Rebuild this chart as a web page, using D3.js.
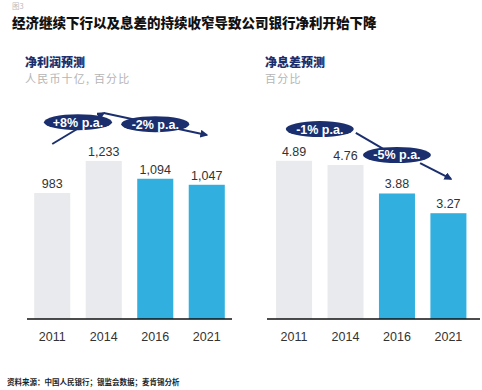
<!DOCTYPE html>
<html>
<head>
<meta charset="utf-8">
<title>公司银行净利</title>
<style>
    body { margin: 0; background: #fff; }
    svg { display: block; }
    .num { font-family: "Liberation Sans", Arial, sans-serif; fill: #333; }
    .cjk { font-family: "Noto Sans CJK SC", sans-serif; }
    .tag { font-family: "Liberation Sans", Arial, sans-serif; font-weight: bold; fill: #fff; font-size: 12.5px; }
</style>
</head>
<body>
<script src="https://d3js.org/d3.v7.min.js"></script>
<script>
// data
var years = ["2011", "2014", "2016", "2021"];
var profit = [983, 1233, 1094, 1047];
var profitLabels = ["983", "1,233", "1,094", "1,047"];
var margin = [4.89, 4.76, 3.88, 3.27];
var marginLabels = ["4.89", "4.76", "3.88", "3.27"];
var forecast = [false, false, true, true];

// growth annotations: [year index, value] points, label
var profitArrows = [
    {pts: [[0, 1365], [1, 1607]], label: "+8% p.a.", at: [0.5, 1535], head: true},
    {pts: [[1, 1607], [3, 1435]], label: "-2% p.a.", at: [2, 1520], head: true}
];
var marginArrows = [
    {pts: [[1.2, 5.75], [1.8, 5.2]], label: "-1% p.a.", at: [0.5, 5.87], head: false},
    {pts: [[2.45, 4.82], [3.05, 4.33]], label: "-5% p.a.", at: [2.0, 5.07], head: true}
];

var width = 482, height = 390;
var grey = "#e8eaed", blue = "#31b0e0", navy = "#1b2f6e";

var svg = d3.select("body").append("svg")
    .attr("width", width)
    .attr("height", height);

var defs = svg.append("defs");
defs.append("marker")
    .attr("id", "head")
    .attr("viewBox", "0 0 10 10")
    .attr("refX", 8).attr("refY", 5)
    .attr("markerWidth", 4).attr("markerHeight", 4)
    .attr("orient", "auto")
    .append("path")
    .attr("d", "M0,0L10,5L0,10z")
    .attr("fill", navy);

svg.append("text").attr("class", "cjk")
    .attr("x", 12).attr("y", 9)
    .attr("font-size", 7.5).attr("fill", "#bbb")
    .text("图3");

svg.append("text").attr("class", "cjk")
    .attr("x", 12).attr("y", 28)
    .attr("font-size", 13.5).attr("font-weight", "900").attr("fill", "#111")
    .text("经济继续下行以及息差的持续收窄导致公司银行净利开始下降");

svg.append("text").attr("class", "cjk")
    .attr("x", 7).attr("y", 385)
    .attr("font-size", 7.5).attr("font-weight", "bold").attr("fill", "#222")
    .text("资料来源：中国人民银行；银监会数据；麦肯锡分析");

function panel(opt) {
    var g = svg.append("g");
    var x = d3.scaleBand()
        .domain(years)
        .range(opt.xr)
        .paddingInner(0.3)
        .paddingOuter(opt.po)
        .align(opt.align);
    var y = d3.scaleLinear()
        .domain([0, opt.max])
        .range([319, 319 - opt.max * opt.k]);
    // index -> x center
    var xi = d3.scaleLinear()
        .domain([0, 3])
        .range([x(years[0]) + x.bandwidth() / 2, x(years[3]) + x.bandwidth() / 2]);

    g.append("text").attr("class", "cjk")
        .attr("x", opt.hx).attr("y", 67)
        .attr("font-size", 12).attr("font-weight", "900").attr("fill", navy)
        .text(opt.title);
    g.append("text").attr("class", "cjk")
        .attr("x", opt.hx).attr("y", 83)
        .attr("font-size", 11).attr("fill", "#b5b5b5")
        .attr("letter-spacing", 1.2)
        .text(opt.sub);

    g.selectAll("rect").data(opt.values).enter().append("rect")
        .attr("x", function(d, i) { return x(years[i]); })
        .attr("width", x.bandwidth())
        .attr("y", function(d) { return y(d); })
        .attr("height", function(d) { return y(0) - y(d); })
        .attr("fill", function(d, i) { return forecast[i] ? blue : grey; });

    g.selectAll(".val").data(opt.values).enter().append("text")
        .attr("class", "num val")
        .attr("x", function(d, i) { return x(years[i]) + x.bandwidth() / 2; })
        .attr("y", function(d) { return y(d) - 5; })
        .attr("text-anchor", "middle")
        .attr("font-size", 12.5)
        .text(function(d, i) { return opt.labels[i]; });

    var axis = g.append("g")
        .attr("transform", "translate(0,319)")
        .call(d3.axisBottom(x).tickSize(0).tickPadding(13));
    axis.select(".domain")
        .attr("d", "M" + opt.xr[0] + ",0H" + opt.xr[1])
        .attr("stroke", "#111").attr("stroke-width", 1.5);
    axis.selectAll("text")
        .attr("class", "num")
        .attr("font-size", 12.5)
        .attr("fill", "#222");

    var line = d3.line()
        .x(function(p) { return xi(p[0]); })
        .y(function(p) { return y(p[1]); });

    opt.arrows.forEach(function(a) {
        g.append("path")
            .attr("d", line(a.pts))
            .attr("fill", "none")
            .attr("stroke", navy)
            .attr("stroke-width", 2)
            .attr("marker-end", a.head ? "url(#head)" : null);
    });
    opt.arrows.forEach(function(a) {
        var cx = xi(a.at[0]), cy = y(a.at[1]);
        g.append("ellipse")
            .attr("cx", cx).attr("cy", cy)
            .attr("rx", 34).attr("ry", 8)
            .attr("fill", navy);
        g.append("text")
            .attr("class", "tag")
            .attr("x", cx).attr("y", cy + 4.5)
            .attr("text-anchor", "middle")
            .text(a.label);
    });
}

panel({
    xr: [27, 232], po: 0.14, align: 0.5,
    max: 1700, k: 0.1282,
    values: profit, labels: profitLabels,
    title: "净利润预测", sub: "人民币十亿, 百分比", hx: 25,
    arrows: profitArrows
});

panel({
    xr: [267, 480], po: 0.22, align: 0.4,
    max: 6, k: 32.35,
    values: margin, labels: marginLabels,
    title: "净息差预测", sub: "百分比", hx: 265,
    arrows: marginArrows
});
</script>
</body>
</html>
